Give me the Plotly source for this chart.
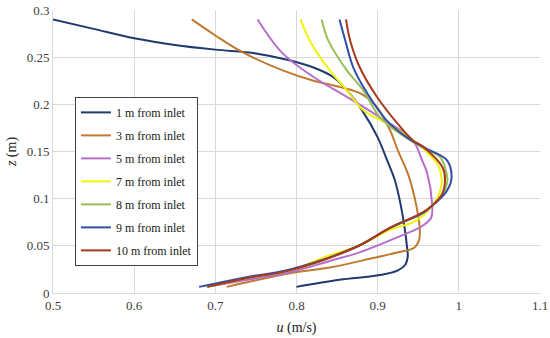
import plotly.graph_objects as go

names = ["1 m from inlet", "3 m from inlet", "5 m from inlet", "7 m from inlet",
         "8 m from inlet", "9 m from inlet", "10 m from inlet"]
colors = ["#1F3A6E", "#C07A30", "#B56FCB", "#F2F20A", "#98BE5C", "#2F4FA8", "#A8391C"]

u_1m = [0.500, 0.550, 0.600, 0.650, 0.700, 0.750, 0.790, 0.821, 0.845, 0.862, 0.882, 0.900, 0.912, 0.921, 0.928, 0.933, 0.936, 0.937, 0.934, 0.925, 0.903, 0.853, 0.800]
z_1m = [0.290, 0.280, 0.270, 0.263, 0.258, 0.254, 0.247, 0.239, 0.229, 0.215, 0.192, 0.165, 0.140, 0.120, 0.095, 0.070, 0.050, 0.038, 0.030, 0.024, 0.019, 0.014, 0.0065]

u_3m = [0.671, 0.700, 0.734, 0.783, 0.821, 0.855, 0.880, 0.900, 0.915, 0.925, 0.937, 0.943, 0.948, 0.952, 0.951, 0.945, 0.924, 0.894, 0.841, 0.792, 0.714]
z_3m = [0.290, 0.273, 0.255, 0.236, 0.225, 0.218, 0.211, 0.196, 0.173, 0.151, 0.127, 0.110, 0.091, 0.067, 0.056, 0.048, 0.043, 0.037, 0.027, 0.021, 0.0065]

u_5m = [0.752, 0.783, 0.821, 0.862, 0.903, 0.943, 0.955, 0.961, 0.967, 0.966, 0.955, 0.924, 0.874, 0.841, 0.792, 0.740, 0.690]
z_5m = [0.290, 0.254, 0.229, 0.208, 0.186, 0.162, 0.140, 0.127, 0.095, 0.080, 0.071, 0.059, 0.042, 0.034, 0.022, 0.014, 0.0065]

u_7m = [0.805, 0.816, 0.841, 0.862, 0.882, 0.915, 0.940, 0.960, 0.975, 0.978, 0.979, 0.973, 0.948, 0.915, 0.874, 0.841, 0.792, 0.740, 0.690]
z_7m = [0.290, 0.268, 0.236, 0.215, 0.194, 0.178, 0.164, 0.150, 0.135, 0.125, 0.117, 0.100, 0.077, 0.067, 0.049, 0.040, 0.024, 0.016, 0.0065]

u_8m = [0.831, 0.839, 0.862, 0.882, 0.903, 0.936, 0.960, 0.977, 0.986, 0.983, 0.975, 0.956, 0.915, 0.874, 0.792, 0.740, 0.690]
z_8m = [0.290, 0.268, 0.236, 0.215, 0.186, 0.164, 0.152, 0.144, 0.120, 0.110, 0.100, 0.085, 0.069, 0.049, 0.024, 0.016, 0.0065]

u_9m = [0.853, 0.860, 0.870, 0.887, 0.911, 0.936, 0.960, 0.985, 0.991, 0.985, 0.964, 0.956, 0.915, 0.874, 0.792, 0.740, 0.680]
z_9m = [0.290, 0.268, 0.239, 0.212, 0.183, 0.165, 0.153, 0.141, 0.122, 0.108, 0.090, 0.085, 0.069, 0.049, 0.025, 0.017, 0.0065]

u_10m = [0.861, 0.866, 0.878, 0.899, 0.924, 0.943, 0.956, 0.980, 0.983, 0.979, 0.960, 0.915, 0.874, 0.792, 0.740, 0.690]
z_10m = [0.290, 0.268, 0.239, 0.208, 0.180, 0.162, 0.155, 0.133, 0.120, 0.104, 0.088, 0.069, 0.049, 0.024, 0.016, 0.0065]

x_ticks = [0.5, 0.6, 0.7, 0.8, 0.9, 1.0, 1.1]
x_tick_labels = ["0.5", "0.6", "0.7", "0.8", "0.9", "1", "1.1"]
y_ticks = [0, 0.05, 0.1, 0.15, 0.2, 0.25, 0.3]
y_tick_labels = ["0", "0.05", "0.1", "0.15", "0.2", "0.25", "0.3"]

series_u = [u_1m, u_3m, u_5m, u_7m, u_8m, u_9m, u_10m]
series_z = [z_1m, z_3m, z_5m, z_7m, z_8m, z_9m, z_10m]

fig = go.Figure()
for i, (name, uu, zz, c) in enumerate(zip(names, series_u, series_z, colors)):
    fig.add_trace(go.Scatter(
        x=uu, y=zz, mode="lines", name=name, legendgroup=f"g{i}",
        line=dict(color=c, width=2, shape="spline", smoothing=1.0),
    ))

font_family = "Times New Roman, Liberation Serif, serif"
fig.update_layout(
    width=550, height=338,
    margin=dict(l=53, r=10, t=10, b=45, autoexpand=False),
    paper_bgcolor="white", plot_bgcolor="white",
    font=dict(family=font_family, size=13, color="#404040"),
    showlegend=True,
    legend=dict(
        x=0.045, y=0.693, xanchor="left", yanchor="top",
        bgcolor="white", bordercolor="#404040", borderwidth=1,
        font=dict(family=font_family, size=12, color="#202020"),
        tracegroupgap=4, itemwidth=30,
    ),
    xaxis=dict(
        range=[0.5, 1.1], tickvals=x_ticks, ticktext=x_tick_labels,
        showgrid=True, gridcolor="#D9D9D9", gridwidth=1,
        showline=True, linecolor="#D9D9D9", zeroline=False,
        ticks="", automargin=False,
        title=dict(text="<i>u</i> (m/s)", font=dict(family=font_family, size=14, color="#202020"), standoff=10),
    ),
    yaxis=dict(
        range=[0, 0.3], tickvals=y_ticks, ticktext=y_tick_labels,
        showgrid=True, gridcolor="#D9D9D9", gridwidth=1,
        showline=True, linecolor="#D9D9D9", zeroline=False,
        ticks="", automargin=False,
        title=dict(text="<i>z</i> (m)", font=dict(family=font_family, size=14, color="#202020"), standoff=6),
    ),
)

fig.write_html("out.html", config={"displayModeBar": False},
               post_script="document.body.style.margin='0';document.body.style.padding='0';")
